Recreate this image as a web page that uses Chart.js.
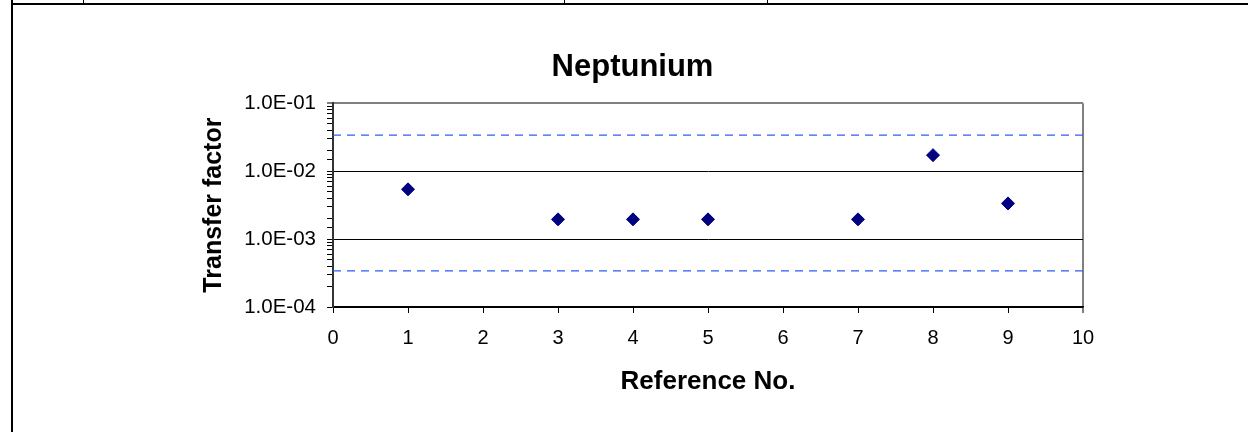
<!DOCTYPE html>
<html>
<head>
<meta charset="utf-8">
<script src="https://cdn.jsdelivr.net/npm/chart.js"></script>
<style>
  body { margin: 0; background: #fff; }
  #wrap { position: relative; width: 1248px; height: 432px; overflow: hidden; }
  #wrap canvas { position: absolute; left: 0; top: 0; }
  .rule { position: absolute; background: #000; }
</style>
</head>
<body>
<div id="wrap">
  <canvas id="myChart" width="1248" height="432"></canvas>
  <!-- table cell borders around the chart -->
  <div class="rule" style="left:11px; top:3px; width:1237px; height:2px;"></div>
  <div class="rule" style="left:11px; top:0; width:2px; height:432px;"></div>
  <div class="rule" style="left:83px; top:0; width:1px; height:3px;"></div>
  <div class="rule" style="left:564px; top:0; width:1px; height:3px;"></div>
  <div class="rule" style="left:767px; top:0; width:1px; height:3px;"></div>
</div>
<script>
// data
const referenceNo = [1, 3, 4, 5, 7, 8, 9];
const transferFactor = [5.4e-3, 1.95e-3, 1.95e-3, 1.95e-3, 1.95e-3, 1.72e-2, 3.35e-3];
const upperLimit = [3.4e-2, 3.4e-2];
const lowerLimit = [3.4e-4, 3.4e-4];
const limitRange = [0, 10];
const yTickValues = [1e-4, 1e-3, 1e-2, 1e-1];
const yTickLabels = ['1.0E-04', '1.0E-03', '1.0E-02', '1.0E-01'];
const xTickLabels = ['0', '1', '2', '3', '4', '5', '6', '7', '8', '9', '10'];

const fontFamily = '"Liberation Sans", Arial, sans-serif';

function isDecade(v) {
    const e = Math.log10(v);
    return Math.abs(e - Math.round(e)) < 1e-9;
}

function yLabel(v) {
    for (let i = 0; i < yTickValues.length; i++) {
        if (Math.abs(Math.log10(v) - Math.log10(yTickValues[i])) < 1e-9) return yTickLabels[i];
    }
    return '';
}

const data = {
    datasets: [
        {
            type: 'scatter',
            data: referenceNo.map((x, i) => ({ x: x, y: transferFactor[i] })),
            pointStyle: 'rectRot',
            pointRadius: 6.5,
            backgroundColor: '#000080',
            borderColor: '#000080',
            borderWidth: 1,
            order: 0
        },
        {
            type: 'line',
            data: limitRange.map((x, i) => ({ x: x, y: upperLimit[i] })),
            borderColor: '#2f5ff0',
            borderWidth: 1.2,
            borderDash: [8, 6],
            pointRadius: 0,
            order: 1
        },
        {
            type: 'line',
            data: limitRange.map((x, i) => ({ x: x, y: lowerLimit[i] })),
            borderColor: '#2f5ff0',
            borderWidth: 1.2,
            borderDash: [8, 6],
            pointRadius: 0,
            order: 1
        }
    ]
};

const options = {
    responsive: false,
    animation: false,
    devicePixelRatio: 1,
    layout: { padding: { left: 182, right: 165, top: 0, bottom: 0 } },
    plugins: {
        legend: { display: false },
        tooltip: { enabled: false },
        title: {
            display: true,
            text: 'Neptunium',
            color: '#000',
            font: { family: fontFamily, size: 31, weight: 'bold' },
            padding: { top: 49, bottom: 17 }
        }
    },
    scales: {
        x: {
            type: 'linear',
            min: 0,
            max: 10,
            afterFit: function(scale) { scale.height = 125; },
            ticks: {
                stepSize: 1,
                color: '#000',
                padding: 13,
                font: { family: fontFamily, size: 20 },
                callback: function(value) { return xTickLabels[value] !== undefined ? xTickLabels[value] : ''; }
            },
            grid: {
                // only the right edge of the plot box shows
                color: ctx => (ctx.tick && ctx.tick.value === 10) ? '#808080' : 'transparent',
                lineWidth: ctx => (ctx.tick && ctx.tick.value === 10) ? 2 : 1,
                tickColor: '#000',
                tickLength: 6,
                tickWidth: 1
            },
            border: { color: '#000', width: 1.5 },
            title: {
                display: true,
                text: 'Reference No.',
                color: '#000',
                font: { family: fontFamily, size: 26, weight: 'bold' },
                padding: { top: 0, bottom: 35 }
            }
        },
        y: {
            type: 'logarithmic',
            min: 1e-4,
            max: 1e-1,
            afterFit: function(scale) { scale.width = 151; },
            ticks: {
                autoSkip: false,
                color: '#000',
                padding: 11,
                font: { family: fontFamily, size: 20.5 },
                callback: function(value) { return yLabel(value); }
            },
            grid: {
                color: function(ctx) {
                    if (!ctx.tick) return 'transparent';
                    const v = ctx.tick.value;
                    if (!isDecade(v)) return 'transparent';
                    if (Math.abs(Math.log10(v) + 1) < 1e-9) return '#808080';
                    return '#000';
                },
                lineWidth: function(ctx) {
                    if (ctx.tick && Math.abs(Math.log10(ctx.tick.value) + 1) < 1e-9) return 2;
                    return 1;
                },
                tickColor: '#000',
                tickLength: 6,
                tickWidth: 1
            },
            border: { color: '#333', width: 2 },
            title: {
                display: true,
                text: 'Transfer factor',
                color: '#000',
                font: { family: fontFamily, size: 25, weight: 'bold' },
                padding: { top: 17, bottom: 0 }
            }
        }
    }
};

const ctx = document.getElementById('myChart').getContext('2d');
const myChart = new Chart(ctx, { data: data, options: options });
</script>
</body>
</html>
